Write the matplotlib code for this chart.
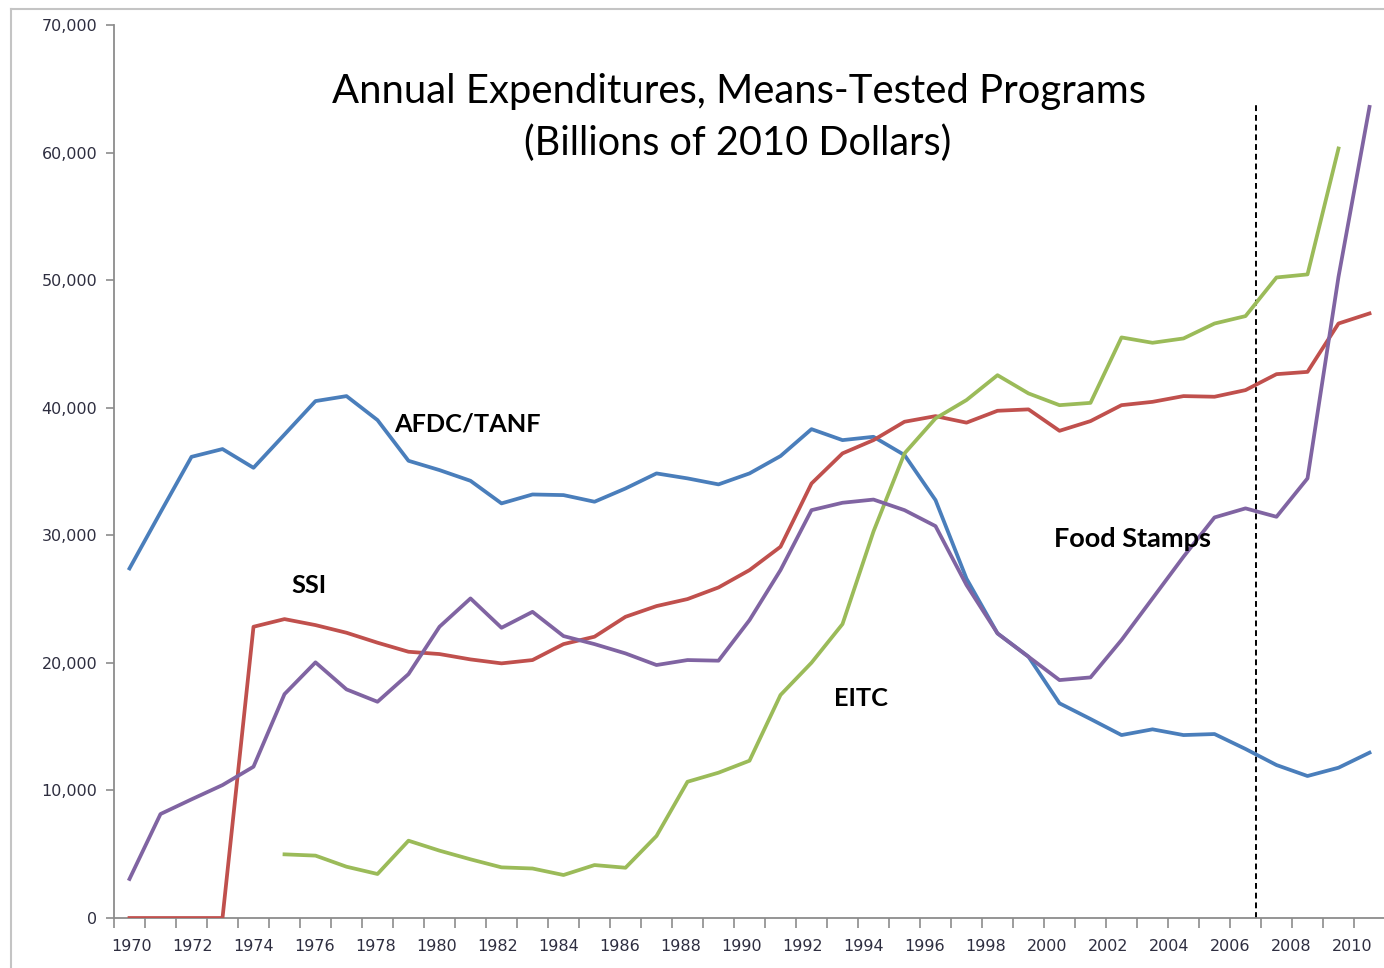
import numpy as np
import matplotlib
matplotlib.use("Agg")
import matplotlib.pyplot as plt
from matplotlib.lines import Line2D

nan = np.nan
years = np.arange(1970, 2011)

# billions of 2010 dollars (as labelled on the chart)
afdc_tanf = [27400, 31800, 36150, 36760, 35290, 37900, 40520, 40910, 39030, 35840,
             35110, 34270, 32500, 33200, 33150, 32630, 33670, 34850, 34460, 33990,
             34850, 36210, 38320, 37460, 37720, 36290, 32760, 26600, 22310, 20480,
             16830, 15600, 14340, 14790, 14340, 14420, 13250, 11990, 11130, 11780, 12960]
ssi = [0, 0, 0, 0, 22830, 23430, 22960, 22360, 21580, 20870,
       20690, 20270, 19960, 20220, 21470, 22050, 23610, 24450, 25000, 25910,
       27270, 29100, 34060, 36420, 37460, 38900, 39340, 38830, 39760, 39870,
       38190, 38950, 40200, 40460, 40910, 40860, 41380, 42630, 42810, 46600, 47390]
eitc = [nan, nan, nan, nan, nan, 4990, 4890, 4020, 3450, 6060,
        5280, 4600, 3970, 3880, 3370, 4150, 3940, 6430, 10680, 11390,
        12330, 17480, 20010, 23040, 30300, 36420, 39160, 40600, 42550, 41120,
        40200, 40380, 45510, 45090, 45430, 46600, 47180, 50210, 50450, 60320, nan]
food_stamps = [3060, 8150, 9300, 10420, 11860, 17550, 20040, 17920, 16950, 19120,
               22830, 25050, 22750, 24000, 22100, 21470, 20740, 19830, 20220, 20170,
               23350, 27270, 31970, 32550, 32800, 31970, 30720, 26100, 22310, 20480,
               18650, 18860, 21790, 25050, 28320, 31400, 32110, 31450, 34460, 50260, 63580]

series = [
    ("AFDC/TANF", afdc_tanf, "#4a7ebb"),
    ("SSI", ssi, "#c0504d"),
    ("EITC", eitc, "#9bbb59"),
    ("Food Stamps", food_stamps, "#8064a2"),
]
# where each name sits (year, value)
name_pos = {"AFDC/TANF": (1980.9, 38700), "SSI": (1975.8, 26100),
            "EITC": (1993.6, 17240), "Food Stamps": (2002.35, 29700)}
marker_year = 2006.34   # dotted vertical marker
marker_top = 63700

W, H = 1384, 968
fig = plt.figure(figsize=(W / 100, H / 100), dpi=100)
ax = fig.add_axes([114 / W, 50 / H, 1271 / W, 893 / H])

for name, vals, col in series:
    ax.plot(years, vals, color=col, lw=2.7, solid_joinstyle="round", zorder=3)
    x, y = name_pos[name]
    fs = 19.5 if name == "Food Stamps" else 18.3
    ax.text(x, y, name, ha="center", va="center", fontsize=fs,
            fontweight="bold", family="Lato", color="black", zorder=4)

ax.vlines(marker_year, 0, marker_top, colors="black", linestyles=(0, (3, 2)),
          lw=1.4, zorder=2)

ax.set_xlim(1969.5, 2010.5)
ax.set_ylim(0, 70000)

axis_col = "#8c8c8c"
for s in ["top", "right"]:
    ax.spines[s].set_visible(False)
for s in ["left", "bottom"]:
    ax.spines[s].set_color(axis_col)
    ax.spines[s].set_linewidth(1.3)

lab_col = "#2e2e40"
ax.set_yticks(np.arange(0, 70001, 10000))
ax.set_yticklabels([f"{v:,}" for v in range(0, 70001, 10000)])
ax.tick_params(axis="y", length=6, width=1.2, color=axis_col, pad=6,
               labelsize=11.5, labelcolor=lab_col)

# ticks between categories, labels every second year
# (in the source the labels creep slightly left of their categories)
lab_years = years[::2]
lab_pos = lab_years - (lab_years - 1970) * 0.016 + 0.07
ax.set_xticks(np.arange(1969.5, 2011, 1))
ax.set_xticklabels([])
ax.set_xticks(lab_pos, minor=True)
ax.set_xticklabels([str(y) for y in lab_years], minor=True)
ax.tick_params(axis="x", which="major", length=7, width=1.2, color=axis_col)
ax.tick_params(axis="x", which="minor", length=0, pad=15,
               labelsize=11.5, labelcolor=lab_col)

fig.text(739 / W, 1 - 91 / H, "Annual Expenditures, Means-Tested Programs",
         ha="center", va="center", fontsize=28.8, family="Lato")
fig.text(738 / W, 1 - 143 / H, "(Billions of 2010 Dollars)",
         ha="center", va="center", fontsize=28.5, family="Lato")

# outer chart frame (cut off at right and bottom)
fig.add_artist(Line2D([11 / W, 11 / W], [0, 1 - 9 / H], color="#c4c4c4", lw=1.5))
fig.add_artist(Line2D([11 / W, 1], [1 - 9 / H, 1 - 9 / H], color="#c4c4c4", lw=1.5))

fig.savefig("out.png", dpi=100)
